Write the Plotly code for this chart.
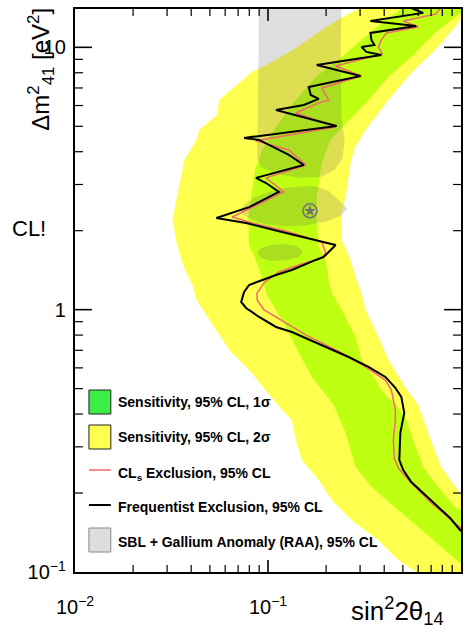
import math
import plotly.graph_objects as go

# ---------------- data (sin^2 2theta14, dm^2_41 [eV^2]) ----------------
# 2 sigma sensitivity band outline (left edge top->bottom, then right edge bottom->top)
band2_outline = [
    (0.30, 16), (0.2945, 14.0), (0.2378, 12.94), (0.1898, 11.65), (0.1394, 9.95), (0.1049, 8.80),
    (0.0827, 8.06), (0.0709, 7.32), (0.0559, 6.30), (0.0546, 5.53), (0.0441, 4.84), (0.0426, 4.44),
    (0.0369, 3.72), (0.0360, 3.41), (0.0336, 2.62), (0.0320, 2.20), (0.0336, 1.80), (0.0360, 1.507),
    (0.0382, 1.356), (0.0406, 1.242), (0.0426, 1.089), (0.0540, 0.837), (0.0630, 0.702), (0.0798, 0.589),
    (0.0977, 0.494), (0.1181, 0.415), (0.1329, 0.380), (0.1394, 0.319), (0.1497, 0.267), (0.1832, 0.224),
    (0.2138, 0.188), (0.2710, 0.158), (0.3734, 0.132), (0.4735, 0.111), (0.5861, 0.100), (0.58, 0.09),
    (1.3, 0.09), (1.3, 0.200), (0.988, 0.200), (0.789, 0.251), (0.676, 0.339), (0.600, 0.433),
    (0.514, 0.507), (0.4205, 0.643), (0.3734, 0.787), (0.3200, 0.997), (0.3051, 1.158), (0.2842, 1.332),
    (0.2678, 1.547), (0.2407, 1.845), (0.2407, 2.34), (0.2524, 2.69), (0.2678, 3.625), (0.2809, 4.135),
    (0.3200, 4.84), (0.4205, 6.30), (0.5525, 7.99), (0.7345, 9.775), (0.9313, 11.96), (0.988, 12.72),
    (1.3, 12.72), (1.3, 16),
]
# 1 sigma sensitivity band outline
band1_outline = [
    (0.49, 16), (0.4906, 14.0), (0.3869, 12.39), (0.3051, 10.67), (0.2407, 9.19), (0.1768, 7.71),
    (0.1394, 6.30), (0.1100, 4.97), (0.0931, 4.06), (0.0857, 3.41), (0.0827, 2.86), (0.0789, 2.20),
    (0.0798, 1.765), (0.0857, 1.574), (0.0920, 1.356), (0.0977, 1.158), (0.1238, 0.859), (0.1445, 0.684),
    (0.1686, 0.554), (0.219, 0.433), (0.2524, 0.339), (0.2842, 0.2514), (0.3436, 0.211), (0.4735, 0.1723),
    (0.6524, 0.1408), (0.857, 0.1182), (0.988, 0.1082), (1.3, 0.105), (1.3, 0.1723), (0.988, 0.1723),
    (0.9313, 0.1769), (0.761, 0.211), (0.637, 0.2514), (0.5657, 0.3186), (0.5206, 0.380), (0.4623, 0.433),
    (0.3963, 0.481), (0.3603, 0.539), (0.3051, 0.643), (0.2842, 0.787), (0.2407, 0.997), (0.2138, 1.158),
    (0.2063, 1.298), (0.1991, 1.547), (0.1832, 1.734), (0.1789, 2.14), (0.1789, 2.69), (0.1898, 3.625),
    (0.2113, 4.44), (0.2407, 4.93), (0.3316, 6.30), (0.4205, 7.71), (0.5525, 9.19), (0.7345, 11.35),
    (0.9313, 13.06), (1.02, 13.65), (1.3, 13.6), (1.3, 16),
]
# SBL + Gallium anomaly (RAA) 95% CL allowed regions
raa_region_upper = [
    (0.0899, 16), (0.2407, 16), (0.2378, 8.95), (0.2407, 5.29), (0.2494, 4.44), (0.2436, 3.79),
    (0.2215, 3.41), (0.1876, 3.205), (0.1445, 3.18), (0.1113, 3.29), (0.0920, 3.50), (0.0878, 3.79),
    (0.0888, 6.30),
]
raa_region_mid = [
    (0.0717, 2.40), (0.0770, 2.55), (0.0857, 2.69), (0.1012, 2.81), (0.1224, 2.91), (0.1533, 2.96),
    (0.1789, 2.94), (0.2063, 2.835), (0.2323, 2.62), (0.2585, 2.42), (0.2378, 2.28), (0.2063, 2.18),
    (0.1607, 2.10), (0.1283, 2.085), (0.1087, 2.10), (0.0920, 2.14), (0.0817, 2.217), (0.0743, 2.30),
]
raa_region_low = [
    (0.0878, 1.645), (0.0920, 1.719), (0.1036, 1.765), (0.1209, 1.78), (0.1411, 1.749), (0.1515, 1.66),
    (0.1445, 1.588), (0.1253, 1.547), (0.1036, 1.534), (0.0920, 1.574),
]
raa_best_fit = (0.165, 2.38)

# Frequentist exclusion contour, 95% CL
freq_sin2 = [0.5525, 0.637, 0.3395, 0.5861, 0.3395, 0.3436, 0.3561, 0.3051, 0.3238, 0.3869,
             0.1789, 0.3016, 0.1626, 0.1666, 0.1832, 0.1533, 0.1100, 0.2268, 0.0752, 0.0899,
             0.1283, 0.1533, 0.0867, 0.0977, 0.1139, 0.0798, 0.0540, 0.0770, 0.1181, 0.1497,
             0.2241, 0.1944, 0.1768, 0.1329, 0.1100, 0.0798, 0.0752, 0.0726, 0.0770, 0.0899,
             0.1100, 0.1329, 0.1898, 0.2616, 0.3316, 0.4058, 0.4569, 0.4906, 0.5083, 0.4849,
             0.4791, 0.5023, 0.5525, 0.6524, 0.761, 0.878, 0.988, 1.15]
freq_dm2 = [14.1, 13.53, 12.61, 12.07, 11.35, 10.67, 10.21, 10.03, 9.605, 9.355,
            8.57, 7.78, 7.06, 6.58, 6.36, 6.03, 5.77, 5.015, 4.515, 4.436,
            3.89, 3.56, 3.18, 3.04, 2.81, 2.46, 2.236, 2.14, 1.978, 1.893,
            1.765, 1.588, 1.547, 1.417, 1.356, 1.242, 1.168, 1.070, 1.015, 0.938,
            0.859, 0.822, 0.734, 0.660, 0.605, 0.554, 0.503, 0.465, 0.404, 0.339,
            0.267, 0.2447, 0.2203, 0.1966, 0.1769, 0.1606, 0.1446, 0.132]

# CLs exclusion contour, 95% CL
cls_sin2 = [0.7795, 0.743, 0.5331, 0.5023, 0.6003, 0.4106, 0.3869, 0.3734, 0.3916, 0.2241,
            0.3051, 0.1898, 0.2063, 0.1832, 0.1394, 0.2241, 0.0867, 0.1283, 0.1570, 0.0977,
            0.1209, 0.0652, 0.0827, 0.1181, 0.1898, 0.1991, 0.1898, 0.1445, 0.1139, 0.0954,
            0.0878, 0.0878, 0.0954, 0.1238, 0.1570, 0.2407, 0.3200, 0.4058, 0.4357, 0.4569,
            0.4569, 0.4462, 0.4515, 0.4735, 0.5525, 0.7005, 0.857, 0.988, 1.15]
cls_dm2 = [14.1, 13.41, 12.72, 12.61, 11.96, 11.35, 10.67, 10.03, 9.44, 8.49,
           7.78, 7.00, 6.30, 6.14, 5.62, 4.97, 4.40, 4.06, 3.56, 3.18,
           2.81, 2.256, 2.14, 2.013, 1.812, 1.645, 1.574, 1.481, 1.392, 1.264,
           1.158, 1.089, 0.997, 0.890, 0.801, 0.684, 0.605, 0.539, 0.494, 0.4146,
           0.380, 0.3186, 0.272, 0.249, 0.2184, 0.1832, 0.162, 0.1484, 0.135]

# axis tick values (major decades and minor digits)
x_major_ticks = [0.1]
x_minor_ticks = [d * 0.01 for d in range(2, 10)] + [d * 0.1 for d in range(2, 10)]
y_major_ticks = [1, 10]
y_minor_ticks = [d * 0.1 for d in range(2, 10)] + [d * 1.0 for d in range(2, 10)]

legend_labels = [
    "Sensitivity, 95% CL, 1\u03c3",
    "Sensitivity, 95% CL, 2\u03c3",
    "CL<sub>s</sub> Exclusion, 95% CL",
    "Frequentist Exclusion, 95% CL",
    "SBL + Gallium Anomaly (RAA), 95% CL",
]

# ---------------- styling ----------------
YELLOW = "#ffff50"
LIME = "#bfff12"
LEG_GREEN = "#3cee44"
GRAY_FILL = "rgba(90,90,90,0.2)"
RED = "#f26a6a"
FONT = "Liberation Sans, Arial, sans-serif"

W, H = 466, 632
ML, MR, MT, MB = 75, 3, 9, 60
PW, PH = W - ML - MR, H - MT - MB
X_RANGE = [-2, 0]
Y_RANGE = [-1, 1.1461]


def fx(xp):
    return (xp - ML) / PW


def fy(yp):
    return (H - MB - yp) / PH


def unzip(pts):
    xs, ys = zip(*pts)
    return list(xs), list(ys)


fig = go.Figure()

for pts, col in [(band2_outline, YELLOW), (band1_outline, LIME)]:
    xs, ys = unzip(pts)
    fig.add_trace(go.Scatter(x=xs, y=ys, mode="lines", fill="toself", fillcolor=col,
                             line=dict(width=0), hoverinfo="skip", showlegend=False))

for pts in [raa_region_upper, raa_region_mid, raa_region_low]:
    xs, ys = unzip(pts)
    fig.add_trace(go.Scatter(x=xs, y=ys, mode="lines", fill="toself", fillcolor=GRAY_FILL,
                             line=dict(width=0), hoverinfo="skip", showlegend=False))

fig.add_trace(go.Scatter(x=cls_sin2, y=cls_dm2, mode="lines",
                         line=dict(color=RED, width=1.5), showlegend=False))
fig.add_trace(go.Scatter(x=freq_sin2, y=freq_dm2, mode="lines",
                         line=dict(color="black", width=2), showlegend=False))

fig.add_trace(go.Scatter(x=[raa_best_fit[0]], y=[raa_best_fit[1]], mode="markers",
                         marker=dict(symbol="circle-open", size=14, color="#707070",
                                     line=dict(width=1.5, color="#707070")),
                         showlegend=False))
fig.add_trace(go.Scatter(x=[raa_best_fit[0]], y=[raa_best_fit[1]], mode="markers",
                         marker=dict(symbol="star", size=9, color="#707070"),
                         showlegend=False))

# ---------------- tick marks (inside, on all four sides), drawn as line traces ----------------
XSPAN = X_RANGE[1] - X_RANGE[0]
YSPAN = Y_RANGE[1] - Y_RANGE[0]


def tick_segments(xvals, xlen, yvals, ylen):
    xs, ys = [], []
    ylo, yhi = 10 ** Y_RANGE[0], 10 ** Y_RANGE[1]
    dy = ylen / PH * YSPAN
    for v in xvals:
        xs += [v, v, None, v, v, None]
        ys += [ylo, 10 ** (Y_RANGE[0] + dy), None, yhi, 10 ** (Y_RANGE[1] - dy), None]
    xlo, xhi = 10 ** X_RANGE[0], 10 ** X_RANGE[1]
    dx = xlen / PW * XSPAN
    for v in yvals:
        xs += [xlo, 10 ** (X_RANGE[0] + dx), None, xhi, 10 ** (X_RANGE[1] - dx), None]
        ys += [v, v, None, v, v, None]
    return xs, ys


for xv, xl, yv, yl, lw in [(x_major_ticks, 17, y_major_ticks, 12, 1.6),
                           (x_minor_ticks, 8, y_minor_ticks, 7, 1.2)]:
    tx, ty = tick_segments(xv, xl, yv, yl)
    fig.add_trace(go.Scatter(x=tx, y=ty, mode="lines", connectgaps=False,
                             line=dict(color="black", width=lw), hoverinfo="skip",
                             showlegend=False))

axis_common = dict(
    type="log", showgrid=False, zeroline=False, showline=True, linecolor="black",
    linewidth=2, mirror=True, ticks="",
    dtick=1, exponentformat="power", showexponent="all",
    tickfont=dict(family=FONT, size=16, color="black"),
)

fig.update_layout(
    width=W, height=H,
    margin=dict(l=ML, r=MR, t=MT, b=MB),
    paper_bgcolor="white", plot_bgcolor="white",
    font=dict(family=FONT, color="black"),
    showlegend=False,
    xaxis=dict(axis_common, range=X_RANGE, ticklabelstandoff=17),
    yaxis=dict(axis_common, range=Y_RANGE, ticklabelstandoff=4),
)

# ---------------- legend (drawn manually) ----------------
bx0, bx1 = fx(89), fx(111)
fig.add_shape(type="rect", xref="paper", yref="paper", x0=bx0, x1=bx1, y0=fy(414), y1=fy(390),
              fillcolor=LEG_GREEN, line=dict(color="#222", width=1))
fig.add_shape(type="rect", xref="paper", yref="paper", x0=bx0, x1=bx1, y0=fy(449), y1=fy(425),
              fillcolor=YELLOW, line=dict(color="#222", width=1))
fig.add_shape(type="line", xref="paper", yref="paper", x0=bx0, x1=bx1, y0=fy(470), y1=fy(470),
              line=dict(color=RED, width=1.5))
fig.add_shape(type="line", xref="paper", yref="paper", x0=bx0, x1=bx1, y0=fy(505), y1=fy(505),
              line=dict(color="black", width=2))
fig.add_shape(type="rect", xref="paper", yref="paper", x0=bx0, x1=bx1, y0=fy(552), y1=fy(528),
              fillcolor="#dddddd", line=dict(color="#888", width=1))

for label, yc in zip(legend_labels, [402, 437, 474, 507, 542]):
    fig.add_annotation(x=fx(116), y=fy(yc), xref="paper", yref="paper", text="<b>%s</b>" % label,
                       showarrow=False, xanchor="left", yanchor="middle",
                       font=dict(family=FONT, size=14, color="black"))

# ---------------- axis titles & stray text ----------------
fig.add_annotation(x=fx(40), y=fy(6), xref="paper", yref="paper",
                   text="\u0394m<sup>2</sup><sub>41</sub> [eV<sup>2</sup>]",
                   textangle=-90, showarrow=False, xanchor="center", yanchor="top",
                   font=dict(family=FONT, size=24, color="black"))
fig.add_annotation(x=fx(448), y=fy(611), xref="paper", yref="paper",
                   text="sin<sup>2</sup>2\u03b8<sub>14</sub>",
                   showarrow=False, xanchor="right", yanchor="middle",
                   font=dict(family=FONT, size=26, color="black"))
fig.add_annotation(x=fx(10), y=fy(229), xref="paper", yref="paper", text="CL!",
                   showarrow=False, xanchor="left", yanchor="middle",
                   font=dict(family=FONT, size=22, color="black"))

fig.write_html("out.html")
